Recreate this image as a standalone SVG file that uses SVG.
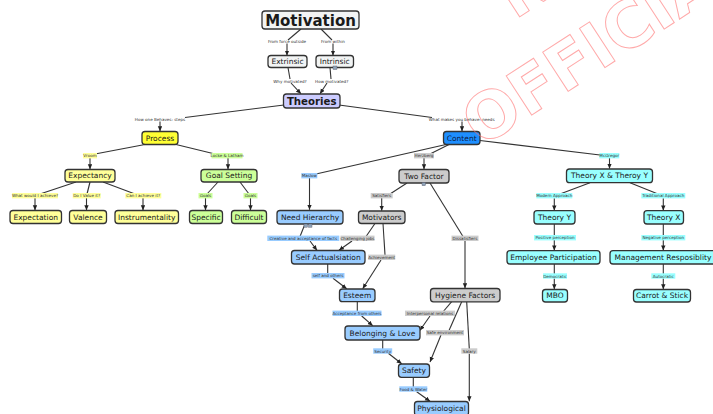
<svg xmlns="http://www.w3.org/2000/svg" width="713" height="414" viewBox="0 0 713 414">
<defs>
<marker id="ah" markerUnits="userSpaceOnUse" markerWidth="6" markerHeight="5" refX="5" refY="2.2" orient="auto"><path d="M0,0 L5,2.2 L0,4.4 z" fill="#222"/></marker>
<style>
.n rect.b{stroke:#333;stroke-width:1.3;rx:3;ry:3}
.n text{font-family:"DejaVu Sans",Verdana,sans-serif;font-size:7.5px;fill:#1a1a1a;text-anchor:middle;dominant-baseline:central}
.w{fill:#f2f4f4}.lav{fill:#ccccff}.y1{fill:#ffff33}.y2{fill:#ffff99}.g{fill:#ccff99}.bl{fill:#99ccff}.db{fill:#1e8fff}.gr{fill:#cccccc}.cy{fill:#99ffff}
.c line,.c polyline{stroke:#333;stroke-width:1.1;fill:none}
.c .a{marker-end:url(#ah)}
.l text{font-family:"DejaVu Sans",Verdana,sans-serif;font-size:4.1px;fill:#333;text-anchor:middle;dominant-baseline:central}
.ic{fill:#8fa3b8;stroke:#556;stroke-width:0.4}
.wm{font-family:"DejaVu Sans",sans-serif;font-weight:bold;font-size:64px;fill:none;stroke:#ff7070;stroke-opacity:0.6;stroke-width:1}
</style>
</defs>
<rect width="713" height="414" fill="#ffffff"/>

<g id="connectors" class="c">
<line x1="301" y1="29" x2="288" y2="40"/><line class="a" x1="287" y1="43.5" x2="287" y2="55.5"/>
<line x1="321" y1="29" x2="332" y2="40"/><line class="a" x1="333" y1="43.5" x2="333" y2="55.5"/>
<line x1="288" y1="67.5" x2="290" y2="79"/><line class="a" x1="291" y1="83" x2="301" y2="93.8"/>
<line x1="330" y1="67.5" x2="331" y2="79"/><line class="a" x1="327" y1="83" x2="320" y2="93.8"/>
<line x1="284" y1="105" x2="185" y2="117.5"/><line class="a" x1="160" y1="121.5" x2="160" y2="131.2"/>
<line x1="339" y1="105" x2="432" y2="117.5"/><line class="a" x1="462" y1="121.5" x2="462" y2="131.2"/>
<line x1="145" y1="144.5" x2="95" y2="154"/><line class="a" x1="90" y1="158" x2="90" y2="169.2"/>
<line x1="176" y1="144.5" x2="215" y2="154"/><line class="a" x1="228" y1="158" x2="228" y2="169.2"/>
<line x1="76" y1="182" x2="40" y2="194"/><line class="a" x1="35" y1="198" x2="35" y2="210.2"/>
<line x1="90" y1="182" x2="87" y2="194"/><line class="a" x1="86.5" y1="198" x2="86.5" y2="210.2"/>
<line x1="103" y1="182" x2="135" y2="194"/><line class="a" x1="143" y1="198" x2="143" y2="210.2"/>
<line x1="218" y1="182" x2="207" y2="194"/><line class="a" x1="205.5" y1="198" x2="205.5" y2="210.2"/>
<line x1="240" y1="182" x2="249" y2="194"/><line class="a" x1="250.5" y1="198" x2="250.5" y2="210.2"/>
<line x1="446" y1="144.5" x2="316" y2="174"/><line class="a" x1="309.5" y1="178" x2="309.5" y2="209.8"/>
<line x1="449" y1="144.5" x2="430" y2="154"/><line class="a" x1="424" y1="158" x2="424" y2="169.2"/>
<line x1="480" y1="140.5" x2="600" y2="155"/><line class="a" x1="609.5" y1="158" x2="609.5" y2="168.7"/>
<line x1="407" y1="183" x2="390" y2="194"/><line class="a" x1="381.7" y1="198" x2="381.7" y2="210.8"/>
<line x1="430" y1="183" x2="463" y2="236.5"/><line class="a" x1="465" y1="241" x2="465" y2="288.2"/>
<line x1="305" y1="224" x2="300" y2="236.5"/><line class="a" x1="310" y1="241" x2="317" y2="250.3"/>
<line x1="375" y1="223.5" x2="366" y2="236.5"/><line class="a" x1="352" y1="241" x2="339" y2="250.3"/>
<line x1="383" y1="223.5" x2="385" y2="255"/><line class="a" x1="381" y1="260" x2="362.7" y2="288.7"/>
<line x1="327.7" y1="264" x2="327.7" y2="273.5"/><line class="a" x1="333" y1="278.3" x2="346.7" y2="288.7"/>
<line x1="357.3" y1="301.7" x2="357.3" y2="311.5"/><line class="a" x1="361.7" y1="316" x2="372.7" y2="325.7"/>
<line x1="451.7" y1="301.7" x2="443.3" y2="311.5"/><line class="a" x1="430" y1="316" x2="419.8" y2="330.5"/>
<line x1="461.7" y1="301.7" x2="449" y2="330.5"/><line class="a" x1="441" y1="335" x2="430" y2="362"/>
<line x1="466.7" y1="301.7" x2="469.3" y2="349"/><line class="a" x1="469.3" y1="353.5" x2="469.3" y2="401.2"/>
<line x1="382.7" y1="340" x2="382.7" y2="349"/><line class="a" x1="388.3" y1="353.3" x2="401.7" y2="363.8"/>
<line x1="413.3" y1="377.3" x2="413.3" y2="387"/><line class="a" x1="416.7" y1="391.7" x2="430" y2="401.3"/>
<line x1="590" y1="182.7" x2="560" y2="194"/><line class="a" x1="554.3" y1="198.3" x2="554.3" y2="210.4"/>
<line x1="630" y1="182.7" x2="658" y2="194"/><line class="a" x1="663.3" y1="198.3" x2="663.3" y2="210.4"/>
<line x1="554.3" y1="224" x2="554.3" y2="236"/><line class="a" x1="554.3" y1="240" x2="554.3" y2="250.4"/>
<line x1="663.3" y1="224" x2="663.3" y2="236"/><line class="a" x1="663.3" y1="240" x2="663.3" y2="250.4"/>
<line x1="554.3" y1="264" x2="554.3" y2="274"/><line class="a" x1="554.3" y1="278.3" x2="554.3" y2="289.2"/>
<line x1="663.3" y1="264" x2="663.3" y2="274"/><line class="a" x1="663.3" y1="278.3" x2="663.3" y2="289.2"/>
</g>

<g id="labels" class="l">
<text x="287" y="41.7">From force outside</text>
<text x="333" y="41.7">From within</text>
<text x="290" y="81">Why motivated?</text>
<text x="331.7" y="81">How motivated?</text>
<text x="160" y="119.3">How one Behaves: steps</text>
<text x="461.7" y="119.3">What makes you behave: needs</text>
<rect x="83" y="153" width="14" height="5.4" class="y2"/><text x="90" y="155.7">Vroom</text>
<rect x="211.5" y="153" width="31" height="5.4" class="g"/><text x="227" y="155.7">Locke &amp; Latham</text>
<rect x="12" y="193" width="46" height="5.4" class="y2"/><text x="35" y="195.7">What would I achieve?</text>
<rect x="72.7" y="193" width="28" height="5.4" class="y2"/><text x="86.7" y="195.7">Do I Value it?</text>
<rect x="125.3" y="193" width="36" height="5.4" class="y2"/><text x="143.3" y="195.7">Can I achieve it?</text>
<rect x="198.5" y="193" width="14" height="5.4" class="g"/><text x="205.5" y="195.7">Goals</text>
<rect x="243.5" y="193" width="14" height="5.4" class="g"/><text x="250.5" y="195.7">Goals</text>
<rect x="301.3" y="173" width="16" height="5.4" class="bl"/><text x="309.3" y="175.7">Maslow</text>
<rect x="414" y="153" width="20" height="5.4" class="gr"/><text x="424" y="155.7">Herzberg</text>
<rect x="599.3" y="153" width="20" height="5.4" class="cy"/><text x="609.3" y="155.7">McGregor</text>
<rect x="370.7" y="193" width="22" height="5.4" class="gr"/><text x="381.7" y="195.7">Satisfiers</text>
<rect x="451.5" y="235.6" width="27" height="5.4" class="gr"/><text x="465" y="238.3">Dissatisfiers</text>
<rect x="267.3" y="235.6" width="72" height="5.4" class="bl"/><text x="303.3" y="238.3">Creative and acceptance of facts</text>
<rect x="340.5" y="235.6" width="34" height="5.4" class="gr"/><text x="357.5" y="238.3">Challenging jobs</text>
<rect x="368.2" y="254.6" width="27" height="5.4" class="gr"/><text x="381.7" y="257.3">Achievement</text>
<rect x="311.5" y="273" width="33" height="5.4" class="bl"/><text x="328" y="275.7">self and others</text>
<rect x="332.5" y="310.6" width="49" height="5.4" class="bl"/><text x="357" y="313.3">Acceptance from others</text>
<rect x="405" y="310.6" width="50" height="5.4" class="gr"/><text x="430" y="313.3">Interpersonal relations</text>
<rect x="426" y="330" width="38" height="5.4" class="gr"/><text x="445" y="332.7">Safe environment</text>
<rect x="461.3" y="348.3" width="16" height="5.4" class="gr"/><text x="469.3" y="351">Salary</text>
<rect x="373.2" y="348.3" width="19" height="5.4" class="bl"/><text x="382.7" y="351">Security</text>
<rect x="399.3" y="386.3" width="28" height="5.4" class="bl"/><text x="413.3" y="389">Food &amp; Water</text>
<rect x="536.3" y="193" width="36" height="5.4" class="cy"/><text x="554.3" y="195.7">Modern Approach</text>
<rect x="641.3" y="193" width="44" height="5.4" class="cy"/><text x="663.3" y="195.7">Traditional Approach</text>
<rect x="534" y="235" width="42" height="5.4" class="cy"/><text x="555" y="237.7">Positive perception</text>
<rect x="641.3" y="235" width="44" height="5.4" class="cy"/><text x="663.3" y="237.7">Negative perception</text>
<rect x="543" y="273.3" width="24" height="5.4" class="cy"/><text x="555" y="276">Democratic</text>
<rect x="651.3" y="273.3" width="24" height="5.4" class="cy"/><text x="663.3" y="276">Autocratic</text>
</g>

<g id="motivation" class="n"><rect class="b w" x="262" y="11" width="97" height="18"/><text x="310.5" y="20.5" style="font-size:15px;font-weight:bold">Motivation</text></g>
<g id="extrinsic" class="n"><rect class="b w" x="268" y="55.5" width="39" height="12"/><text x="287.5" y="61.5">Extrinsic</text></g>
<g id="intrinsic" class="n"><rect class="b w" x="316" y="55.5" width="37.5" height="12"/><text x="334.7" y="61.5">Intrinsic</text><rect class="ic" x="333" y="66" width="4" height="3.5"/></g>
<g id="theories" class="n"><rect class="b lav" x="283.5" y="94" width="56.5" height="14"/><text x="311.7" y="101" style="font-size:10.2px;font-weight:bold">Theories</text></g>
<g id="process" class="n"><rect class="b y1" x="142" y="131.5" width="36" height="13"/><text x="160" y="138">Process</text></g>
<g id="content" class="n"><rect class="b db" x="443.5" y="131.5" width="36.5" height="13"/><text x="461.7" y="138" style="fill:#0a1a45">Content</text></g>
<g id="expectancy" class="n"><rect class="b y2" x="65" y="169.5" width="50" height="12.5"/><text x="90" y="175.8">Expectancy</text></g>
<g id="goal-setting" class="n"><rect class="b g" x="201" y="169.5" width="56" height="12.5"/><text x="229" y="175.8">Goal Setting</text></g>
<g id="expectation" class="n"><rect class="b y2" x="10" y="210.5" width="51.5" height="13"/><text x="35.7" y="217">Expectation</text></g>
<g id="valence" class="n"><rect class="b y2" x="69.5" y="210.5" width="37" height="13"/><text x="88" y="217">Valence</text></g>
<g id="instrumentality" class="n"><rect class="b y2" x="115" y="210.5" width="63.5" height="13"/><text x="146.7" y="217">Instrumentality</text></g>
<g id="specific" class="n"><rect class="b g" x="189.5" y="210.5" width="33" height="13"/><text x="206" y="217">Specific</text></g>
<g id="difficult" class="n"><rect class="b g" x="231.5" y="210.5" width="35" height="13"/><text x="249" y="217">Difficult</text></g>
<g id="need-hierarchy" class="n"><rect class="b bl" x="277" y="210.5" width="66" height="13.5"/><text x="310" y="217.2">Need Hierarchy</text><rect class="ic" x="304" y="224" width="3.5" height="3.2"/><rect class="ic" x="308.5" y="224" width="3.5" height="3.2"/></g>
<g id="two-factor" class="n"><rect class="b gr" x="399" y="169.5" width="50" height="13.5"/><text x="424" y="176.2">Two Factor</text><rect class="ic" x="422" y="182.5" width="3.5" height="3.2"/></g>
<g id="motivators" class="n"><rect class="b gr" x="358.5" y="211" width="46.5" height="12.5"/><text x="381.7" y="217.2">Motivators</text></g>
<g id="self-actualisation" class="n"><rect class="b bl" x="291.5" y="250.5" width="73.5" height="13.5"/><text x="328.2" y="257.2">Self Actualsiation</text></g>
<g id="esteem" class="n"><rect class="b bl" x="339.5" y="289" width="35.5" height="12.7"/><text x="357.2" y="295.3">Esteem</text></g>
<g id="belonging" class="n"><rect class="b bl" x="345" y="326" width="75" height="14"/><text x="382.5" y="333">Belonging &amp; Love</text></g>
<g id="hygiene" class="n"><rect class="b gr" x="430.5" y="288.5" width="69.5" height="13.3"/><text x="465.2" y="295.2">Hygiene Factors</text></g>
<g id="safety" class="n"><rect class="b bl" x="398.5" y="364" width="31" height="13.3"/><text x="414" y="370.7">Safety</text></g>
<g id="physiological" class="n"><rect class="b bl" x="414.5" y="401.5" width="54" height="14"/><text x="441.5" y="408.5">Physiological</text></g>
<g id="theory-xy" class="n"><rect class="b cy" x="566.5" y="169" width="86" height="13.7"/><text x="609.5" y="175.9">Theory X &amp; Theroy Y</text></g>
<g id="theory-y" class="n"><rect class="b cy" x="534" y="210.7" width="41" height="13.3"/><text x="554.5" y="217.4">Theory Y</text></g>
<g id="theory-x" class="n"><rect class="b cy" x="644" y="210.7" width="39.5" height="13.3"/><text x="663.7" y="217.4">Theory X</text></g>
<g id="employee-participation" class="n"><rect class="b cy" x="507" y="250.7" width="93" height="13.3"/><text x="553.5" y="257.4">Employee Participation</text></g>
<g id="management" class="n"><rect class="b cy" x="610" y="250.7" width="106" height="13.3"/><text x="663" y="257.4">Management Resposiblity</text></g>
<g id="mbo" class="n"><rect class="b cy" x="542.5" y="289.5" width="25" height="12.5"/><text x="555" y="295.8">MBO</text></g>
<g id="carrot-stick" class="n"><rect class="b cy" x="633.5" y="289.5" width="57" height="12.5"/><text x="662" y="295.8">Carrot &amp; Stick</text></g>

<g id="watermark" transform="translate(481,148) rotate(-33)">
<text class="wm" x="98" y="-89">NOT</text>
<text class="wm" x="0" y="0">OFFICIAL</text>
</g>
</svg>
